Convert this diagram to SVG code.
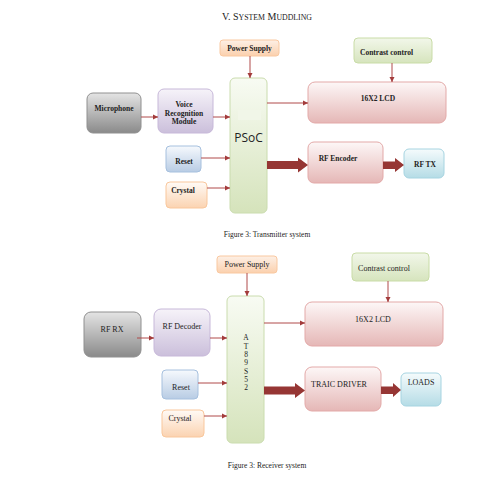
<svg xmlns="http://www.w3.org/2000/svg" width="493" height="481" viewBox="0 0 493 481">
<defs>
<linearGradient id="gGray" x1="0" y1="0" x2="0" y2="1"><stop offset="0" stop-color="#e4e4e4"/><stop offset="1" stop-color="#8a8a8a"/></linearGradient>
<linearGradient id="gPurple" x1="0" y1="0" x2="0" y2="1"><stop offset="0" stop-color="#f6f3f9"/><stop offset="1" stop-color="#cbbfdb"/></linearGradient>
<linearGradient id="gGreen" x1="0" y1="0" x2="0" y2="1"><stop offset="0" stop-color="#f8fbf3"/><stop offset="1" stop-color="#d5e3bb"/></linearGradient>
<linearGradient id="gBlue" x1="0" y1="0" x2="0" y2="1"><stop offset="0" stop-color="#f6f9fd"/><stop offset="1" stop-color="#b8cce4"/></linearGradient>
<linearGradient id="gOrange" x1="0" y1="0" x2="0" y2="1"><stop offset="0" stop-color="#fffaf6"/><stop offset="1" stop-color="#fbd3b1"/></linearGradient>
<linearGradient id="gPower" x1="0" y1="0" x2="0" y2="1"><stop offset="0" stop-color="#fdf0e6"/><stop offset="1" stop-color="#fbd0ad"/></linearGradient>
<linearGradient id="gRed" x1="0" y1="0" x2="0" y2="1"><stop offset="0" stop-color="#fdf7f7"/><stop offset="1" stop-color="#e5b7b6"/></linearGradient>
<linearGradient id="gCyan" x1="0" y1="0" x2="0" y2="1"><stop offset="0" stop-color="#f5fbfc"/><stop offset="1" stop-color="#b5dce6"/></linearGradient>
<linearGradient id="gLGreen" x1="0" y1="0" x2="0" y2="1"><stop offset="0" stop-color="#f2f7ea"/><stop offset="1" stop-color="#d6e4bd"/></linearGradient>
<marker id="ah" markerWidth="6" markerHeight="6" refX="5" refY="3" orient="auto" markerUnits="userSpaceOnUse"><path d="M0,0.5 L5,3 L0,5.5 z" fill="#a33b3b"/></marker>
</defs>
<style>
.t{font-family:"Liberation Serif","DejaVu Serif",serif;fill:#222;}
.b{font-weight:bold;font-size:7.5px;}
.n{font-size:8px;}
.ln{stroke:#b04a4a;stroke-width:1;fill:none;marker-end:url(#ah);}
.big{fill:#963634;}
rect{stroke-width:1;}
</style>
<rect width="493" height="481" fill="#fff"/>
<text class="t" x="267" y="20" text-anchor="middle" font-size="10">V.  S<tspan font-size="7.8">YSTEM</tspan> M<tspan font-size="7.8">UDDLING</tspan></text>

<!-- Transmitter -->
<g id="tx-power"><rect x="220" y="40" width="59" height="16" rx="3" fill="url(#gPower)" stroke="#f9c8a0"/><text class="t b" x="249.5" y="50.5" text-anchor="middle">Power Supply</text></g>
<g id="tx-contrast"><rect x="354" y="38" width="78" height="25" rx="4" fill="url(#gLGreen)" stroke="#c9dca7"/><text class="t b" x="360" y="55">Contrast control</text></g>
<g id="tx-psoc"><rect x="230" y="78" width="37" height="135" rx="5" fill="url(#gGreen)" stroke="#cadcae"/><rect x="238" y="110" width="23" height="10" fill="#f1f6e8"/><text x="248.5" y="142" text-anchor="middle" font-family="Open Sans, Liberation Sans, sans-serif" font-size="12" fill="#222">PSoC</text></g>
<g id="tx-lcd"><rect x="308" y="82" width="138" height="41" rx="7" fill="url(#gRed)" stroke="#e3a9a8"/><text class="t b" x="378" y="101" text-anchor="middle">16X2 LCD</text></g>
<g id="tx-mic"><rect x="87" y="93" width="54" height="40" rx="6" fill="url(#gGray)" stroke="#909090"/><text class="t b" x="114" y="111" text-anchor="middle">Microphone</text></g>
<g id="tx-voice"><rect x="158" y="89" width="55" height="44" rx="6" fill="url(#gPurple)" stroke="#c7b8d9"/><text class="t b" x="184" y="107" text-anchor="middle">Voice</text><text class="t b" x="184" y="116" text-anchor="middle">Recognition</text><text class="t b" x="184" y="124" text-anchor="middle">Module</text></g>
<g id="tx-reset"><rect x="166" y="146" width="35" height="26" rx="4" fill="url(#gBlue)" stroke="#a6c0de"/><text class="t b" x="184" y="164" text-anchor="middle">Reset</text></g>
<g id="tx-crystal"><rect x="166" y="182" width="41" height="26" rx="4" fill="url(#gOrange)" stroke="#f9c79c"/><text class="t b" x="183" y="193" text-anchor="middle">Crystal</text></g>
<g id="tx-encoder"><rect x="308" y="142" width="75" height="41" rx="6" fill="url(#gRed)" stroke="#e3a9a8"/><text class="t b" x="338" y="161" text-anchor="middle">RF Encoder</text></g>
<g id="tx-rftx"><rect x="404" y="149" width="40" height="29" rx="5" fill="url(#gCyan)" stroke="#a6d4e1"/><text class="t b" x="425" y="167" text-anchor="middle">RF TX</text></g>
<text class="t" x="267" y="237" text-anchor="middle" font-size="7.5">Figure 3: Transmitter system</text>

<!-- Receiver -->
<g id="rx-power"><rect x="217" y="256" width="60" height="17" rx="3" fill="url(#gPower)" stroke="#f9c8a0"/><text class="t n" x="247" y="266.5" text-anchor="middle">Power Supply</text></g>
<g id="rx-contrast"><rect x="352" y="253" width="77" height="28" rx="4" fill="url(#gLGreen)" stroke="#c9dca7"/><text class="t n" x="384" y="271" text-anchor="middle">Contrast control</text></g>
<g id="rx-at"><rect x="227" y="296" width="37" height="147" rx="5" fill="url(#gGreen)" stroke="#cadcae"/>
<g class="t" font-size="7.5" text-anchor="middle"><text x="246" y="340">A</text><text x="246" y="348.5">T</text><text x="246" y="357">8</text><text x="246" y="365">9</text><text x="246" y="373.5">S</text><text x="246" y="382">5</text><text x="246" y="390">2</text></g></g>
<g id="rx-lcd"><rect x="305" y="302" width="138" height="44" rx="7" fill="url(#gRed)" stroke="#e3a9a8"/><text class="t n" x="373" y="322" text-anchor="middle">16X2 LCD</text></g>
<g id="rx-rfrx"><rect x="84" y="312" width="57" height="45" rx="7" fill="url(#gGray)" stroke="#909090"/><text class="t n" x="112" y="332" text-anchor="middle">RF RX</text></g>
<g id="rx-decoder"><rect x="154" y="309" width="56" height="47" rx="7" fill="url(#gPurple)" stroke="#c7b8d9"/><text class="t n" x="182" y="329" text-anchor="middle">RF Decoder</text></g>
<g id="rx-reset"><rect x="162" y="370" width="36" height="29" rx="4" fill="url(#gBlue)" stroke="#a6c0de"/><text class="t n" x="181" y="390" text-anchor="middle">Reset</text></g>
<g id="rx-crystal"><rect x="162" y="410" width="42" height="27" rx="4" fill="url(#gOrange)" stroke="#f9c79c"/><text class="t n" x="180" y="421" text-anchor="middle">Crystal</text></g>
<g id="rx-traic"><rect x="305" y="367" width="76" height="44" rx="7" fill="url(#gRed)" stroke="#e3a9a8"/><text class="t n" x="339" y="387" text-anchor="middle">TRAIC DRIVER</text></g>
<g id="rx-loads"><rect x="401" y="373" width="40" height="33" rx="5" fill="url(#gCyan)" stroke="#a6d4e1"/><text class="t n" x="421" y="385" text-anchor="middle">LOADS</text></g>
<text class="t" x="267" y="468" text-anchor="middle" font-size="7.5">Figure 3: Receiver system</text>

<g id="connectors">
<line class="ln" x1="250" y1="56" x2="250" y2="78"/>
<line class="ln" x1="392" y1="63" x2="392" y2="82"/>
<line class="ln" x1="141" y1="117" x2="158" y2="117"/>
<line class="ln" x1="213" y1="117" x2="230" y2="117"/>
<line class="ln" x1="267" y1="103" x2="308" y2="103"/>
<line class="ln" x1="201" y1="158" x2="230" y2="158"/>
<line class="ln" x1="207" y1="188" x2="230" y2="188"/>
<path class="big" d="M267,161 L298,161 L298,157.5 L308,165 L298,172.5 L298,169 L267,169 z"/>
<path class="big" d="M383,161.5 L395,161.5 L395,158 L404,165 L395,172 L395,169 L383,169 z"/>
<line class="ln" x1="247" y1="273" x2="247" y2="296"/>
<line class="ln" x1="388" y1="281" x2="388" y2="302"/>
<line class="ln" x1="137" y1="338" x2="154" y2="338"/>
<line class="ln" x1="210" y1="338" x2="227" y2="338"/>
<line class="ln" x1="264" y1="323" x2="305" y2="323"/>
<line class="ln" x1="198" y1="383" x2="227" y2="383"/>
<line class="ln" x1="204" y1="416" x2="227" y2="416"/>
<path class="big" d="M264,386.5 L295,386.5 L295,383 L305,390.5 L295,398 L295,394.5 L264,394.5 z"/>
<path class="big" d="M381,386.5 L393,386.5 L393,383 L401,390 L393,397 L393,394 L381,394 z"/>
</g>
</svg>
